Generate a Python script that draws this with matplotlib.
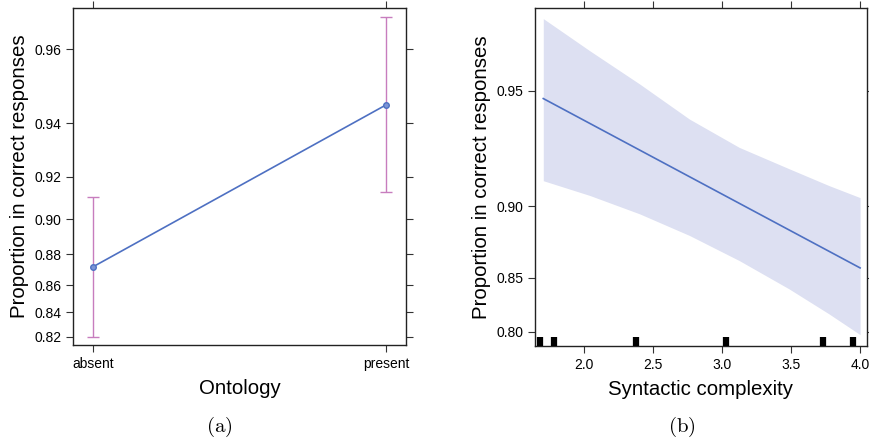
import matplotlib
matplotlib.use("Agg")
import matplotlib.pyplot as plt
import numpy as np

# ---- data: panel (a) ----
ontology = ["absent", "present"]
ont_fit = [0.8722, 0.9457]
ont_lower = [0.8195, 0.9130]
ont_upper = [0.9108, 0.9667]
yticks_a = [0.82, 0.84, 0.86, 0.88, 0.90, 0.92, 0.94, 0.96]

# ---- data: panel (b) ----
line_x = [1.704, 4.0]
line_fit = [0.9475, 0.858]
band_x = [1.704, 2.041, 2.402, 2.763, 3.124, 3.485, 3.774, 4.0]
band_upper = [0.968, 0.9609, 0.9520, 0.9405, 0.9294, 0.9198, 0.9114, 0.9049]
band_lower = [0.9139, 0.9061, 0.8955, 0.8817, 0.8637, 0.8407, 0.8179, 0.7970]
rug_x = [1.68, 1.78, 2.377, 3.03, 3.73, 3.95]
xticks_b = [2.0, 2.5, 3.0, 3.5, 4.0]
yticks_b = [0.80, 0.85, 0.90, 0.95]

plt.rcParams['font.family'] = ['Liberation Sans', 'DejaVu Sans']
plt.rcParams['mathtext.fontset'] = 'cm'

W, H = 870, 442
fig = plt.figure(figsize=(W / 100, H / 100), dpi=100)

def ax_rect(l, t, r, b):
    return [l / W, 1 - b / H, (r - l) / W, (b - t) / H]

LINE_C = '#4E70C2'
ERR_C = '#C77DBE'
BAND_C = '#DDE0F2'

def style(ax):
    for s in ax.spines.values():
        s.set_linewidth(1.0)
        s.set_color('#222222')
    ax.tick_params(direction='out', length=5, width=0.8, color='#333333',
                   labelsize=10, top=True, right=True,
                   labeltop=False, labelright=False)

# ---------- panel (a) ----------
ax1 = fig.add_axes(ax_rect(73, 8.3, 406, 344.7))
ax1.set_yscale('logit')
xpos = np.arange(len(ontology))
yerr = [np.array(ont_fit) - np.array(ont_lower), np.array(ont_upper) - np.array(ont_fit)]
ax1.errorbar(xpos, ont_fit, yerr=yerr, fmt='none', ecolor=ERR_C,
             elinewidth=1.0, capsize=4, capthick=1.0, zorder=2)
ax1.plot(xpos, ont_fit, color=LINE_C, lw=1.2, marker='o', ms=4,
         mfc='#7C94D6', mec=LINE_C, zorder=3)
ax1.set_xlim(-0.068, 1.068)
ax1.set_ylim(0.8131, 0.9682)
ax1.set_yticks(yticks_a)
ax1.set_yticklabels([f"{v:.2f}" for v in yticks_a])
ax1.yaxis.set_minor_locator(matplotlib.ticker.NullLocator())
ax1.set_xticks(xpos)
ax1.set_xticklabels(ontology)
style(ax1)
ax1.set_ylabel("Proportion in correct responses", fontsize=14.7, labelpad=4)
ax1.set_xlabel("Ontology", fontsize=14.7, labelpad=6)

# ---------- panel (b) ----------
ax2 = fig.add_axes(ax_rect(535, 8.3, 867, 345.7))
ax2.set_yscale('logit')
ax2.fill_between(band_x, band_lower, band_upper, color=BAND_C, lw=0, zorder=1)
ax2.plot(line_x, line_fit, color=LINE_C, lw=1.2, zorder=3)
ax2.set_xlim(1.644, 4.05)
ax2.set_ylim(0.7852, 0.9700)
for rx in rug_x:
    ax2.plot([rx, rx], [0, 0.027], transform=ax2.get_xaxis_transform(),
             color='black', lw=4.5, solid_capstyle='butt', zorder=4)
ax2.set_xticks(xticks_b)
ax2.set_xticklabels([f"{v:.1f}" for v in xticks_b])
ax2.set_yticks(yticks_b)
ax2.set_yticklabels([f"{v:.2f}" for v in yticks_b])
ax2.yaxis.set_minor_locator(matplotlib.ticker.NullLocator())
style(ax2)
ax2.set_ylabel("Proportion in correct responses", fontsize=14.7, labelpad=4)
ax2.set_xlabel("Syntactic complexity", fontsize=14.7, labelpad=6)

# captions
fig.text(219 / W, 1 - 427 / H, r"$\mathrm{(a)}$", ha='center', va='center', fontsize=15)
fig.text(682 / W, 1 - 427 / H, r"$\mathrm{(b)}$", ha='center', va='center', fontsize=15)

fig.savefig("out.png", dpi=100)
